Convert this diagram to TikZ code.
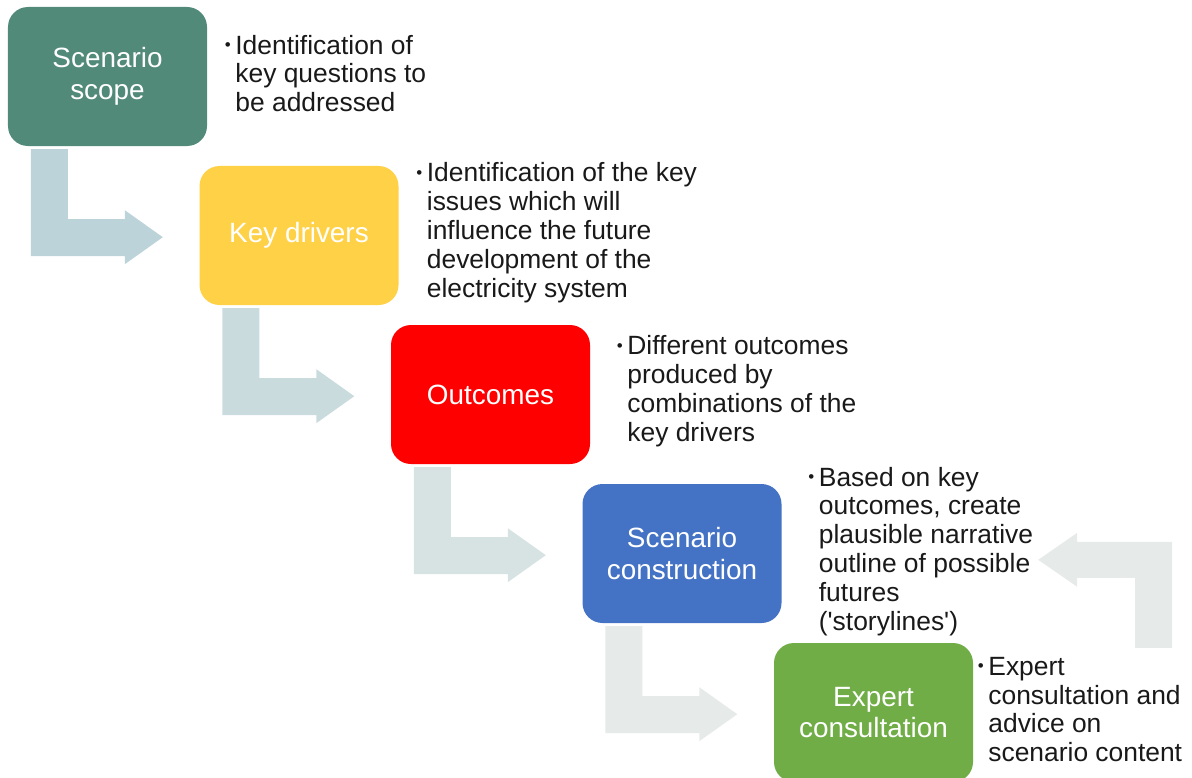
\documentclass[tikz,border=0pt]{standalone}
\usepackage{fontspec}
\setmainfont{Liberation Sans}
\usepackage{tikz}
\usetikzlibrary{calc}
\definecolor{ScopeTeal}{HTML}{528A7A}
\definecolor{DriverYellow}{HTML}{FFD146}
\definecolor{OutcomeRed}{HTML}{FF0000}
\definecolor{BuildBlue}{HTML}{4472C4}
\definecolor{ExpertGreen}{HTML}{70AD47}
\definecolor{FlowA}{HTML}{BCD3D9}
\definecolor{FlowB}{HTML}{C9DBDD}
\definecolor{FlowC}{HTML}{D7E3E2}
\definecolor{FlowD}{HTML}{E6EAE9}
\tikzset{
  phasebox/.style={rectangle, rounded corners=20bp, minimum width=199bp, minimum height=139bp, inner sep=0pt, text=white, font=\fontsize{28}{32}\selectfont, align=center},
  notetext/.style={anchor=west, inner sep=0pt, align=left, text=black!90, font=\fontsize{26.5}{29}\selectfont}
}
\newcommand{\notebullet}{\llap{\raisebox{3.5bp}{\fontsize{17}{17}\selectfont\textbullet}\hspace{4.5bp}}}

\begin{document}
\begin{tikzpicture}[x=1bp, y=-1bp]
  \useasboundingbox (0,0) rectangle (1192,778);

  % Phases
  \node[phasebox, fill=ScopeTeal] (p1) at (107.5,76.5) {Scenario\\scope};
  \node[phasebox, fill=DriverYellow] (p2) at (299,235.5) {Key drivers};
  \node[phasebox, fill=OutcomeRed] (p3) at (490.5,394.5) {Outcomes};
  \node[phasebox, fill=BuildBlue] (p4) at (682,553.5) {Scenario\\construction};
  \node[phasebox, fill=ExpertGreen] (p5) at (873.5,712.5) {Expert\\consultation};

  % Flow arrows
  \foreach \k/\flowcol in {1/FlowA, 2/FlowB, 3/FlowC, 4/FlowD} {
    \fill[\flowcol] ($(p\k.south west)+(23,3)$) -- ++(37,0) -- ++(0,70) -- ++(57,0) -- ++(0,-9)
      -- ++(38,27) -- ++(-38,27) -- ++(0,-8) -- ++(-94,0) -- cycle;
  }

  % Feedback arrow
  \fill[FlowD] ($(p5.north east)+(199,5)$) -- ++(0,-106) -- ++(-95,0) -- ++(0,-9)
    -- ++(-39,27) -- ++(39,27) -- ++(0,-9) -- ++(58,0) -- ++(0,70) -- cycle;

  % Notes
  \node[notetext] (n1) at ($(p1.east)+(28,-3)$) {\notebullet Identification of\\key questions to\\be addressed};
  \node[notetext] (n2) at ($(p2.east)+(28,-3)$) {\notebullet Identification of the key\\issues which will\\influence the future\\development of the\\electricity system};
  \node[notetext] (n3) at ($(p3.east)+(37,-3)$) {\notebullet Different outcomes\\produced by\\combinations of the\\key drivers};
  \node[notetext] (n4) at ($(p4.east)+(37,-2)$) {\notebullet Based on key\\outcomes, create\\plausible narrative\\outline of possible\\futures\\(\textquotesingle storylines\textquotesingle)};
  \node[notetext] (n5) at ($(p5.east)+(15,-3)$) {\notebullet Expert\\consultation and\\advice on\\scenario content};
\end{tikzpicture}
\end{document}
